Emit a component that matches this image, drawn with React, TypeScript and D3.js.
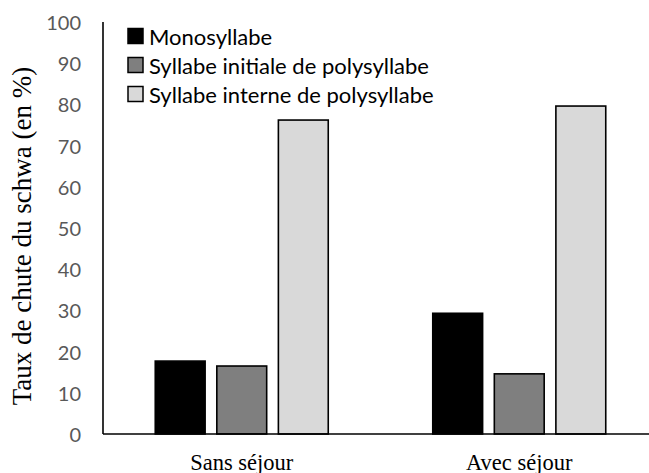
import React from "react";
import * as d3 from "d3";

const categories = ["Sans séjour", "Avec séjour"];
const seriesNames = [
  "Monosyllabe",
  "Syllabe initiale de polysyllabe",
  "Syllabe interne de polysyllabe",
];
const monosyllabe = [17.7, 29.3];
const initiale = [16.5, 14.6];
const interne = [76.2, 79.6];
const yTicks = [0, 10, 20, 30, 40, 50, 60, 70, 80, 90, 100];
const fills = ["#000000", "#7f7f7f", "#d9d9d9"];

const W = 649;
const H = 473;

export default function App() {
  const left = 103;
  const bandW = 277.5;
  const top = 22;
  const bottom = 434;
  const series = [monosyllabe, initiale, interne];

  const x = d3.scaleBand().domain(categories).range([left, left + bandW * 2]).paddingInner(0).paddingOuter(0);
  // bars of one category sit in the middle 173px of each band
  const groupW = 173;
  const off = (x.bandwidth() - groupW) / 2;
  const inner = d3.scaleBand().domain(seriesNames).range([off, off + groupW]).paddingInner(0.19).paddingOuter(0);
  const y = d3.scaleLinear().domain([0, 100]).range([bottom, top]);

  return (
    <svg width={W} height={H} style={{ position: "absolute", left: 0, top: 0, background: "#fff" }}>
      {/* bars */}
      {categories.map((c, ci) =>
        seriesNames.map((s, si) => {
          const v = series[si][ci];
          const bx = (x(c) as number) + (inner(s) as number);
          return (
            <rect
              key={c + s}
              x={bx}
              y={y(v)}
              width={inner.bandwidth()}
              height={y(0) - y(v)}
              fill={fills[si]}
              stroke="#000"
              strokeWidth={1.6}
            />
          );
        })
      )}
      {/* axes */}
      <line x1={left} x2={left} y1={top} y2={bottom} stroke="#000" strokeWidth={1.6} />
      <line x1={left} x2={W} y1={bottom} y2={bottom} stroke="#000" strokeWidth={1.6} />
      {yTicks.map((t) => (
        <text
          key={t}
          x={81}
          y={y(t)}
          textAnchor="end"
          dominantBaseline="central"
          fontFamily="Lato, 'Open Sans', sans-serif"
          fontSize={20}
          fill="#595959"
        >
          {t}
        </text>
      ))}
      {categories.map((c) => (
        <text
          key={c}
          x={(x(c) as number) + x.bandwidth() / 2}
          y={470}
          textAnchor="middle"
          fontFamily="'Liberation Serif', 'Times New Roman', serif"
          fontSize={22.5}
          fill="#000"
        >
          {c}
        </text>
      ))}
      <text
        transform={`translate(22, 236) rotate(-90)`}
        textAnchor="middle"
        dominantBaseline="central"
        fontFamily="'Liberation Serif', 'Times New Roman', serif"
        fontSize={27}
        fill="#000"
      >
        Taux de chute du schwa (en %)
      </text>
      {/* legend */}
      {seriesNames.map((s, i) => (
        <g key={s} transform={`translate(128, ${36 + i * 29})`}>
          <rect x={0} y={-7.5} width={15} height={15} fill={fills[i]} stroke="#000" strokeWidth={1.5} />
          <text
            x={21}
            y={0}
            dominantBaseline="central"
            fontFamily="Lato, 'Open Sans', sans-serif"
            fontSize={22}
            fill="#000"
          >
            {s}
          </text>
        </g>
      ))}
    </svg>
  );
}
